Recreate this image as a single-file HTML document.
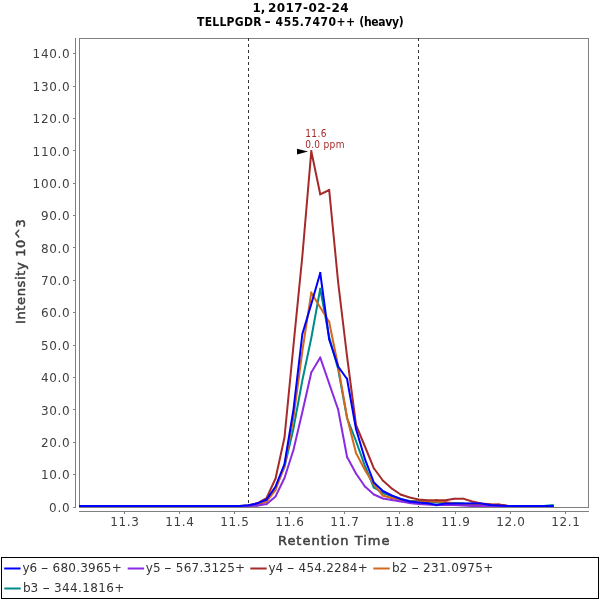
<!DOCTYPE html>
<html><head><meta charset="utf-8"><title>Chromatogram</title><style>
html,body{margin:0;padding:0;background:#fff;}
svg{display:block;will-change:transform;}
text{font-family:"DejaVu Sans","Liberation Sans",sans-serif;}
.tt{font-size:12px;font-weight:bold;fill:#000;}
.tc{font-family:"DejaVu Sans Condensed","DejaVu Sans",sans-serif;font-stretch:condensed;}
.tl{font-size:12px;fill:#404040;}
.al{font-size:13px;fill:#404040;stroke:#404040;stroke-width:0.5px;}
.an{font-size:10px;fill:#A52A2A;font-family:"DejaVu Sans Condensed","DejaVu Sans",sans-serif;font-stretch:condensed;}
.lg{font-size:12px;fill:#333;}
</style></head>
<body>
<svg width="600" height="600" viewBox="0 0 600 600">
<rect width="600" height="600" fill="#fff"/>
<text y="12" class="tt"><tspan x="252.5">1,</tspan> <tspan x="268" textLength="80.5">2017-02-24</tspan></text>
<text y="25.5" class="tt tc"><tspan x="197" textLength="64.5">TELLPGDR</tspan> <tspan x="264.6" textLength="6.3" lengthAdjust="spacingAndGlyphs">-</tspan> <tspan x="275.6" textLength="79.5">455.7470++</tspan> <tspan x="359.3" textLength="44.3">(heavy)</tspan></text>
<line x1="75.5" y1="38" x2="75.5" y2="508" stroke="#808080" stroke-width="1"/>
<line x1="73" y1="507.5" x2="75" y2="507.5" stroke="#808080" stroke-width="1"/>
<text x="69.6" y="511.8" text-anchor="end" class="tl" textLength="20.5">0.0</text>
<line x1="73" y1="474.5" x2="75" y2="474.5" stroke="#808080" stroke-width="1"/>
<text x="69.6" y="479.4" text-anchor="end" class="tl" textLength="28.7">10.0</text>
<line x1="73" y1="442.5" x2="75" y2="442.5" stroke="#808080" stroke-width="1"/>
<text x="69.6" y="447.0" text-anchor="end" class="tl" textLength="28.7">20.0</text>
<line x1="73" y1="409.5" x2="75" y2="409.5" stroke="#808080" stroke-width="1"/>
<text x="69.6" y="414.6" text-anchor="end" class="tl" textLength="28.7">30.0</text>
<line x1="73" y1="377.5" x2="75" y2="377.5" stroke="#808080" stroke-width="1"/>
<text x="69.6" y="382.2" text-anchor="end" class="tl" textLength="28.7">40.0</text>
<line x1="73" y1="345.5" x2="75" y2="345.5" stroke="#808080" stroke-width="1"/>
<text x="69.6" y="349.8" text-anchor="end" class="tl" textLength="28.7">50.0</text>
<line x1="73" y1="312.5" x2="75" y2="312.5" stroke="#808080" stroke-width="1"/>
<text x="69.6" y="317.4" text-anchor="end" class="tl" textLength="28.7">60.0</text>
<line x1="73" y1="280.5" x2="75" y2="280.5" stroke="#808080" stroke-width="1"/>
<text x="69.6" y="285.1" text-anchor="end" class="tl" textLength="28.7">70.0</text>
<line x1="73" y1="247.5" x2="75" y2="247.5" stroke="#808080" stroke-width="1"/>
<text x="69.6" y="252.7" text-anchor="end" class="tl" textLength="28.7">80.0</text>
<line x1="73" y1="215.5" x2="75" y2="215.5" stroke="#808080" stroke-width="1"/>
<text x="69.6" y="220.3" text-anchor="end" class="tl" textLength="28.7">90.0</text>
<line x1="73" y1="183.5" x2="75" y2="183.5" stroke="#808080" stroke-width="1"/>
<text x="69.6" y="187.9" text-anchor="end" class="tl" textLength="37.0">100.0</text>
<line x1="73" y1="150.5" x2="75" y2="150.5" stroke="#808080" stroke-width="1"/>
<text x="69.6" y="155.5" text-anchor="end" class="tl" textLength="37.0">110.0</text>
<line x1="73" y1="118.5" x2="75" y2="118.5" stroke="#808080" stroke-width="1"/>
<text x="69.6" y="123.1" text-anchor="end" class="tl" textLength="37.0">120.0</text>
<line x1="73" y1="86.5" x2="75" y2="86.5" stroke="#808080" stroke-width="1"/>
<text x="69.6" y="90.7" text-anchor="end" class="tl" textLength="37.0">130.0</text>
<line x1="73" y1="53.5" x2="75" y2="53.5" stroke="#808080" stroke-width="1"/>
<text x="69.6" y="58.3" text-anchor="end" class="tl" textLength="37.0">140.0</text>
<line x1="79" y1="511.5" x2="589" y2="511.5" stroke="#808080" stroke-width="1"/>
<line x1="124.5" y1="512" x2="124.5" y2="514" stroke="#808080" stroke-width="1"/>
<text x="124.5" y="526" text-anchor="middle" class="tl" textLength="28.7">11.3</text>
<line x1="179.5" y1="512" x2="179.5" y2="514" stroke="#808080" stroke-width="1"/>
<text x="179.5" y="526" text-anchor="middle" class="tl" textLength="28.7">11.4</text>
<line x1="234.5" y1="512" x2="234.5" y2="514" stroke="#808080" stroke-width="1"/>
<text x="234.5" y="526" text-anchor="middle" class="tl" textLength="28.7">11.5</text>
<line x1="289.5" y1="512" x2="289.5" y2="514" stroke="#808080" stroke-width="1"/>
<text x="289.5" y="526" text-anchor="middle" class="tl" textLength="28.7">11.6</text>
<line x1="344.5" y1="512" x2="344.5" y2="514" stroke="#808080" stroke-width="1"/>
<text x="344.5" y="526" text-anchor="middle" class="tl" textLength="28.7">11.7</text>
<line x1="399.5" y1="512" x2="399.5" y2="514" stroke="#808080" stroke-width="1"/>
<text x="399.5" y="526" text-anchor="middle" class="tl" textLength="28.7">11.8</text>
<line x1="455.5" y1="512" x2="455.5" y2="514" stroke="#808080" stroke-width="1"/>
<text x="455.5" y="526" text-anchor="middle" class="tl" textLength="28.7">11.9</text>
<line x1="510.5" y1="512" x2="510.5" y2="514" stroke="#808080" stroke-width="1"/>
<text x="510.5" y="526" text-anchor="middle" class="tl" textLength="28.7">12.0</text>
<line x1="565.5" y1="512" x2="565.5" y2="514" stroke="#808080" stroke-width="1"/>
<text x="565.5" y="526" text-anchor="middle" class="tl" textLength="28.7">12.1</text>
<text x="333.7" y="544.8" text-anchor="middle" class="al" textLength="111.5">Retention Time</text>
<text transform="translate(25.2,271.6) rotate(-90)" x="0" y="0" text-anchor="middle" class="al" textLength="105">Intensity 10^3</text>
<clipPath id="c"><rect x="79" y="38" width="509" height="469"/></clipPath>
<rect x="79.5" y="38.5" width="509" height="469" fill="none" stroke="#808080" stroke-width="1"/>
<line x1="248.5" y1="38" x2="248.5" y2="507" stroke="#333" stroke-width="1" stroke-dasharray="3 3"/>
<line x1="418.5" y1="38" x2="418.5" y2="507" stroke="#333" stroke-width="1" stroke-dasharray="3 3"/>
<g clip-path="url(#c)" fill="none" stroke-width="2" stroke-linecap="square">
<path d="M69.92 506.00L78.86 506.00M78.86 506.00L87.80 506.00M87.80 506.00L96.74 506.00M96.74 506.00L105.68 506.00M105.68 506.00L114.62 506.00M114.62 506.00L123.56 506.00M123.56 506.00L132.50 506.00M132.50 506.00L141.44 506.00M141.44 506.00L150.38 506.00M150.38 506.00L159.32 506.00M159.32 506.00L168.26 506.00M168.26 506.00L177.20 506.00M177.20 506.00L186.14 506.00M186.14 506.00L195.08 506.00M195.08 506.00L204.02 506.00M204.02 506.00L212.96 506.00M212.96 506.00L221.90 506.00M221.90 506.00L230.84 506.00M230.84 506.00L239.78 506.00M239.78 506.00L248.72 506.00M248.72 506.00L257.66 505.30M257.66 505.30L266.60 500.50M266.60 500.50L275.54 487.50M275.54 487.50L284.48 467.00M284.48 467.00L293.42 428.70M293.42 428.70L302.36 380.30M302.36 380.30L311.30 338.00M311.30 338.00L320.24 288.80M320.24 288.80L329.18 337.00M329.18 337.00L338.12 369.00M338.12 369.00L347.06 418.00M347.06 418.00L356.00 441.00M356.00 441.00L364.94 466.00M364.94 466.00L373.88 487.50M373.88 487.50L382.82 493.00M382.82 493.00L391.76 496.00M391.76 496.00L400.70 499.00M400.70 499.00L409.64 501.00M409.64 501.00L418.58 501.00M418.58 501.00L427.52 502.00M427.52 502.00L436.46 502.50M436.46 502.50L445.40 503.00M445.40 503.00L454.34 503.00M454.34 503.00L463.28 503.50M463.28 503.50L472.22 504.00M472.22 504.00L481.16 504.50M481.16 504.50L490.10 505.00M490.10 505.00L499.04 505.50M499.04 505.50L507.98 506.00M507.98 506.00L516.92 506.00M516.92 506.00L525.86 506.00M525.86 506.00L534.80 506.00M534.80 506.00L543.74 506.00M543.74 506.00L552.68 505.00" stroke="#008B8B"/>
<path d="M69.92 506.00L78.86 506.00M78.86 506.00L87.80 506.00M87.80 506.00L96.74 506.00M96.74 506.00L105.68 506.00M105.68 506.00L114.62 506.00M114.62 506.00L123.56 506.00M123.56 506.00L132.50 506.00M132.50 506.00L141.44 506.00M141.44 506.00L150.38 506.00M150.38 506.00L159.32 506.00M159.32 506.00L168.26 506.00M168.26 506.00L177.20 506.00M177.20 506.00L186.14 506.00M186.14 506.00L195.08 506.00M195.08 506.00L204.02 506.00M204.02 506.00L212.96 506.00M212.96 506.00L221.90 506.00M221.90 506.00L230.84 506.00M230.84 506.00L239.78 506.00M239.78 506.00L248.72 505.80M248.72 505.80L257.66 505.00M257.66 505.00L266.60 501.50M266.60 501.50L275.54 490.00M275.54 490.00L284.48 466.00M284.48 466.00L293.42 418.00M293.42 418.00L302.36 351.00M302.36 351.00L311.30 292.70M311.30 292.70L320.24 307.40M320.24 307.40L329.18 322.00M329.18 322.00L338.12 366.00M338.12 366.00L347.06 417.50M347.06 417.50L356.00 453.00M356.00 453.00L364.94 470.00M364.94 470.00L373.88 484.50M373.88 484.50L382.82 495.50M382.82 495.50L391.76 498.00M391.76 498.00L400.70 500.00M400.70 500.00L409.64 501.50M409.64 501.50L418.58 501.50M418.58 501.50L427.52 501.50M427.52 501.50L436.46 501.50M436.46 501.50L445.40 502.00M445.40 502.00L454.34 503.50M454.34 503.50L463.28 504.00M463.28 504.00L472.22 504.00M472.22 504.00L481.16 504.50M481.16 504.50L490.10 504.60M490.10 504.60L499.04 504.80M499.04 504.80L507.98 506.00M507.98 506.00L516.92 506.00M516.92 506.00L525.86 506.00M525.86 506.00L534.80 506.00M534.80 506.00L543.74 506.00M543.74 506.00L552.68 506.00" stroke="#D2691E"/>
<path d="M69.92 506.00L78.86 506.00M78.86 506.00L87.80 506.00M87.80 506.00L96.74 506.00M96.74 506.00L105.68 506.00M105.68 506.00L114.62 506.00M114.62 506.00L123.56 506.00M123.56 506.00L132.50 506.00M132.50 506.00L141.44 506.00M141.44 506.00L150.38 506.00M150.38 506.00L159.32 506.00M159.32 506.00L168.26 506.00M168.26 506.00L177.20 506.00M177.20 506.00L186.14 506.00M186.14 506.00L195.08 506.00M195.08 506.00L204.02 506.00M204.02 506.00L212.96 506.00M212.96 506.00L221.90 506.00M221.90 506.00L230.84 506.00M230.84 506.00L239.78 506.00M239.78 506.00L248.72 505.30M248.72 505.30L257.66 503.00M257.66 503.00L266.60 498.00M266.60 498.00L275.54 478.50M275.54 478.50L284.48 437.50M284.48 437.50L293.42 346.00M293.42 346.00L302.36 256.00M302.36 256.00L311.30 151.20M311.30 151.20L320.24 194.30M320.24 194.30L329.18 190.00M329.18 190.00L338.12 282.00M338.12 282.00L347.06 356.50M347.06 356.50L356.00 425.00M356.00 425.00L364.94 446.50M364.94 446.50L373.88 468.30M373.88 468.30L382.82 480.50M382.82 480.50L391.76 488.50M391.76 488.50L400.70 494.50M400.70 494.50L409.64 497.50M409.64 497.50L418.58 499.50M418.58 499.50L427.52 500.30M427.52 500.30L436.46 500.00M436.46 500.00L445.40 500.30M445.40 500.30L454.34 498.70M454.34 498.70L463.28 498.70M463.28 498.70L472.22 501.50M472.22 501.50L481.16 503.50M481.16 503.50L490.10 504.20M490.10 504.20L499.04 504.40M499.04 504.40L507.98 506.00M507.98 506.00L516.92 506.00M516.92 506.00L525.86 506.00M525.86 506.00L534.80 506.00M534.80 506.00L543.74 506.00M543.74 506.00L552.68 506.00" stroke="#A52A2A"/>
<path d="M69.92 506.00L78.86 506.00M78.86 506.00L87.80 506.00M87.80 506.00L96.74 506.00M96.74 506.00L105.68 506.00M105.68 506.00L114.62 506.00M114.62 506.00L123.56 506.00M123.56 506.00L132.50 506.00M132.50 506.00L141.44 506.00M141.44 506.00L150.38 506.00M150.38 506.00L159.32 506.00M159.32 506.00L168.26 506.00M168.26 506.00L177.20 506.00M177.20 506.00L186.14 506.00M186.14 506.00L195.08 506.00M195.08 506.00L204.02 506.00M204.02 506.00L212.96 506.00M212.96 506.00L221.90 506.00M221.90 506.00L230.84 506.00M230.84 506.00L239.78 506.00M239.78 506.00L248.72 506.00M248.72 506.00L257.66 505.50M257.66 505.50L266.60 504.00M266.60 504.00L275.54 496.50M275.54 496.50L284.48 478.00M284.48 478.00L293.42 450.00M293.42 450.00L302.36 412.00M302.36 412.00L311.30 372.50M311.30 372.50L320.24 357.60M320.24 357.60L329.18 383.50M329.18 383.50L338.12 409.50M338.12 409.50L347.06 457.00M347.06 457.00L356.00 473.50M356.00 473.50L364.94 486.50M364.94 486.50L373.88 494.50M373.88 494.50L382.82 498.50M382.82 498.50L391.76 500.00M391.76 500.00L400.70 501.50M400.70 501.50L409.64 503.00M409.64 503.00L418.58 504.00M418.58 504.00L427.52 504.50M427.52 504.50L436.46 505.00M436.46 505.00L445.40 505.00M445.40 505.00L454.34 505.00M454.34 505.00L463.28 505.50M463.28 505.50L472.22 506.00M472.22 506.00L481.16 506.00M481.16 506.00L490.10 506.00M490.10 506.00L499.04 506.00M499.04 506.00L507.98 506.00M507.98 506.00L516.92 506.00M516.92 506.00L525.86 506.00M525.86 506.00L534.80 506.00M534.80 506.00L543.74 506.00M543.74 506.00L552.68 506.00" stroke="#8A2BE2"/>
<path d="M69.92 506.00L78.86 506.00M78.86 506.00L87.80 506.00M87.80 506.00L96.74 506.00M96.74 506.00L105.68 506.00M105.68 506.00L114.62 506.00M114.62 506.00L123.56 506.00M123.56 506.00L132.50 506.00M132.50 506.00L141.44 506.00M141.44 506.00L150.38 506.00M150.38 506.00L159.32 506.00M159.32 506.00L168.26 506.00M168.26 506.00L177.20 506.00M177.20 506.00L186.14 506.00M186.14 506.00L195.08 506.00M195.08 506.00L204.02 506.00M204.02 506.00L212.96 506.00M212.96 506.00L221.90 506.00M221.90 506.00L230.84 506.00M230.84 506.00L239.78 506.00M239.78 506.00L248.72 505.30M248.72 505.30L257.66 503.30M257.66 503.30L266.60 499.50M266.60 499.50L275.54 486.50M275.54 486.50L284.48 464.00M284.48 464.00L293.42 410.00M293.42 410.00L302.36 334.00M302.36 334.00L311.30 304.00M311.30 304.00L320.24 273.00M320.24 273.00L329.18 339.50M329.18 339.50L338.12 366.50M338.12 366.50L347.06 379.00M347.06 379.00L356.00 429.00M356.00 429.00L364.94 459.00M364.94 459.00L373.88 482.50M373.88 482.50L382.82 491.00M382.82 491.00L391.76 495.50M391.76 495.50L400.70 499.00M400.70 499.00L409.64 501.50M409.64 501.50L418.58 502.50M418.58 502.50L427.52 503.20M427.52 503.20L436.46 505.00M436.46 505.00L445.40 503.50M445.40 503.50L454.34 503.50M454.34 503.50L463.28 503.50M463.28 503.50L472.22 503.20M472.22 503.20L481.16 503.50M481.16 503.50L490.10 505.00M490.10 505.00L499.04 505.60M499.04 505.60L507.98 506.00M507.98 506.00L516.92 506.00M516.92 506.00L525.86 506.00M525.86 506.00L534.80 506.00M534.80 506.00L543.74 506.00M543.74 506.00L552.68 506.00" stroke="#0000FF"/>
</g>
<polygon points="297,148.8 308,151.6 297,154.6" fill="#000"/>
<text x="305.2" y="136.8" class="an" textLength="21.3">11.6</text>
<text y="147.7" class="an"><tspan x="305.2" textLength="14.8">0.0</tspan> <tspan x="323.4" textLength="21.2">ppm</tspan></text>
<rect x="1.5" y="557.5" width="597" height="41" fill="none" stroke="#000" stroke-width="1"/>
<line x1="5.2" y1="568.5" x2="19.6" y2="568.5" stroke="#0000FF" stroke-width="2" stroke-linecap="square"/>
<text y="572" class="lg"><tspan x="22.5">y6</tspan> <tspan x="40.8" textLength="7.8" lengthAdjust="spacingAndGlyphs">-</tspan> <tspan x="52.5" textLength="69.3">680.3965+</tspan></text>
<line x1="128.7" y1="568.5" x2="143.1" y2="568.5" stroke="#8A2BE2" stroke-width="2" stroke-linecap="square"/>
<text y="572" class="lg"><tspan x="145.8">y5</tspan> <tspan x="164.1" textLength="7.8" lengthAdjust="spacingAndGlyphs">-</tspan> <tspan x="175.8" textLength="69.3">567.3125+</tspan></text>
<line x1="251.3" y1="568.5" x2="265.7" y2="568.5" stroke="#A52A2A" stroke-width="2" stroke-linecap="square"/>
<text y="572" class="lg"><tspan x="268.5">y4</tspan> <tspan x="286.8" textLength="7.8" lengthAdjust="spacingAndGlyphs">-</tspan> <tspan x="298.5" textLength="69.3">454.2284+</tspan></text>
<line x1="374.3" y1="568.5" x2="388.7" y2="568.5" stroke="#D2691E" stroke-width="2" stroke-linecap="square"/>
<text y="572" class="lg"><tspan x="392.0">b2</tspan> <tspan x="411.3" textLength="7.8" lengthAdjust="spacingAndGlyphs">-</tspan> <tspan x="423.0" textLength="70.3">231.0975+</tspan></text>
<line x1="5.3" y1="588.5" x2="19.7" y2="588.5" stroke="#008B8B" stroke-width="2" stroke-linecap="square"/>
<text y="592" class="lg"><tspan x="23.0">b3</tspan> <tspan x="42.3" textLength="7.8" lengthAdjust="spacingAndGlyphs">-</tspan> <tspan x="54.0" textLength="70.3">344.1816+</tspan></text>
</svg>
</body></html>
